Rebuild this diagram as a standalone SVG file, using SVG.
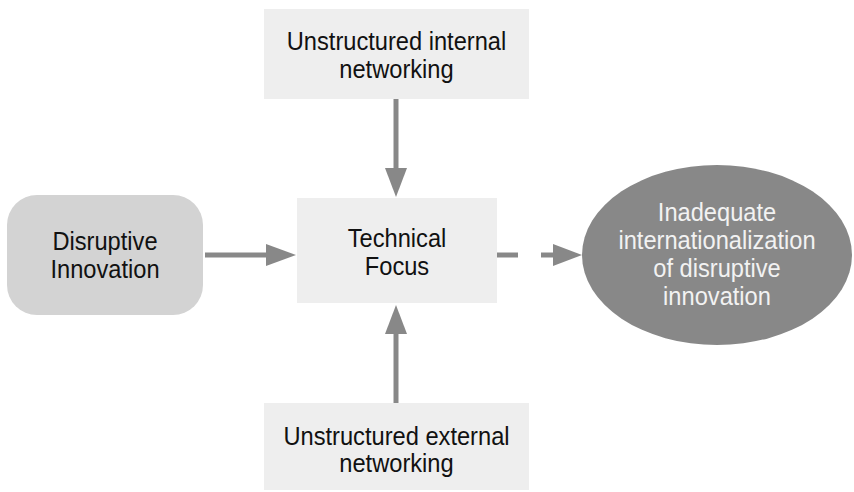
<svg xmlns="http://www.w3.org/2000/svg" width="854" height="492" viewBox="0 0 854 492">
  <defs>
    <style>
      .box { fill: #eeeeee; }
      .lbl { font-family: "Liberation Sans", Arial, sans-serif; font-size: 26px; fill: #111111; text-anchor: middle; }
      .lbl-inv { fill: #f2f2f2; }
      .conn { stroke: #888888; stroke-width: 5; fill: none; }
      .head { fill: #888888; }
    </style>
  </defs>
  <rect width="854" height="492" fill="#ffffff"/>

  <g id="connectors">
    <!-- Disruptive Innovation -> Technical Focus -->
    <line class="conn" x1="205" y1="255" x2="268" y2="255"/>
    <polygon class="head" points="266,244 296,255 266,266"/>
    <!-- internal networking -> Technical Focus -->
    <line class="conn" x1="396" y1="99" x2="396" y2="170"/>
    <polygon class="head" points="385,168 407,168 396,197"/>
    <!-- external networking -> Technical Focus -->
    <line class="conn" x1="396" y1="403" x2="396" y2="332"/>
    <polygon class="head" points="385,334 407,334 396,305"/>
    <!-- Technical Focus -> outcome (dashed) -->
    <line class="conn" x1="497" y1="255" x2="518" y2="255"/>
    <line class="conn" x1="541" y1="255" x2="555" y2="255"/>
    <polygon class="head" points="553,244 582,255 553,266"/>
  </g>

  <!-- labels use a slightly condensed horizontal scale -->
  <g id="node-internal">
    <rect class="box" x="264" y="9" width="265" height="90"/>
    <text class="lbl" transform="translate(396.5,50) scale(0.91,1)">Unstructured internal</text>
    <text class="lbl" transform="translate(396.5,78) scale(0.91,1)">networking</text>
  </g>

  <g id="node-external">
    <rect class="box" x="264" y="403" width="265" height="87"/>
    <text class="lbl" transform="translate(396.5,445) scale(0.91,1)">Unstructured external</text>
    <text class="lbl" transform="translate(396.5,472) scale(0.91,1)">networking</text>
  </g>

  <g id="node-technical">
    <rect class="box" x="297" y="198" width="200" height="105"/>
    <text class="lbl" transform="translate(397,247) scale(0.91,1)">Technical</text>
    <text class="lbl" transform="translate(397,275) scale(0.91,1)">Focus</text>
  </g>

  <g id="node-disruptive">
    <rect x="7" y="195" width="196" height="120" rx="30" ry="30" fill="#d3d3d3"/>
    <text class="lbl" transform="translate(105,250) scale(0.91,1)">Disruptive</text>
    <text class="lbl" transform="translate(105,277.5) scale(0.91,1)">Innovation</text>
  </g>

  <g id="node-outcome">
    <ellipse cx="717" cy="255" rx="135" ry="90" fill="#888888"/>
    <text class="lbl lbl-inv" transform="translate(717,221) scale(0.91,1)">Inadequate</text>
    <text class="lbl lbl-inv" transform="translate(717,249) scale(0.91,1)">internationalization</text>
    <text class="lbl lbl-inv" transform="translate(717,277) scale(0.91,1)">of disruptive</text>
    <text class="lbl lbl-inv" transform="translate(717,305) scale(0.91,1)">innovation</text>
  </g>
</svg>
